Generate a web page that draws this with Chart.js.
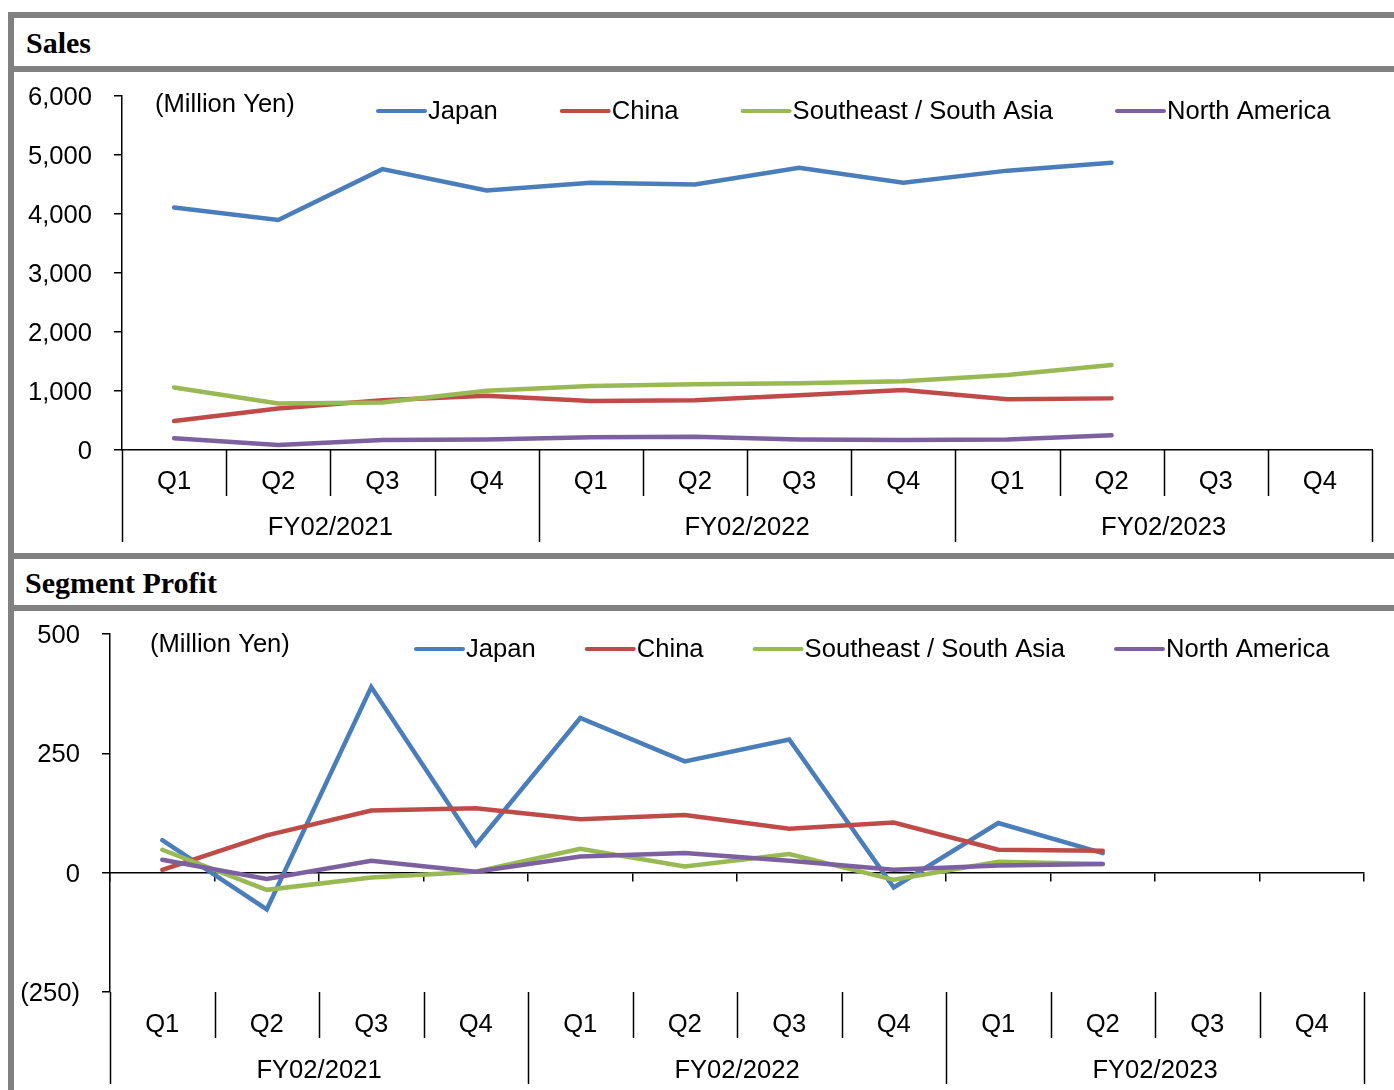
<!DOCTYPE html>
<html>
<head>
<meta charset="utf-8">
<script src="https://cdn.jsdelivr.net/npm/chart.js@4.4.0/dist/chart.umd.min.js"></script>
<style>
  body { margin: 0; background: #fff; width: 1394px; height: 1090px; overflow: hidden; position: relative; }
  .bar { position: absolute; background: #808080; }
  .title { position: absolute; font: bold 30px "Liberation Serif", "Times New Roman", serif; line-height: 30px; color: #000; }
  .box { position: absolute; left: 14px; width: 1380px; }
</style>
</head>
<body>
<div class="bar" style="left:8px;top:12px;width:1386px;height:6px"></div>
<div class="bar" style="left:8px;top:12px;width:6px;height:1078px"></div>
<div class="bar" style="left:8px;top:66px;width:1386px;height:6px"></div>
<div class="bar" style="left:8px;top:553px;width:1386px;height:6px"></div>
<div class="bar" style="left:8px;top:605px;width:1386px;height:6px"></div>
<div class="title" style="left:26px;top:28px">Sales</div>
<div class="title" style="left:25px;top:568px">Segment Profit</div>
<div class="box" style="top:72px;height:481px"><canvas id="sales"></canvas></div>
<div class="box" style="top:611px;height:479px"><canvas id="profit"></canvas></div>

<script>
// categories
const quarters = ["Q1", "Q2", "Q3", "Q4", "Q1", "Q2", "Q3", "Q4", "Q1", "Q2", "Q3", "Q4"];
const fiscalYears = ["FY02/2021", "FY02/2022", "FY02/2023"];
const seriesNames = ["Japan", "China", "Southeast / South Asia", "North America"];
const seriesColors = ["#4a7ebb", "#be4b48", "#98b954", "#7d60a0"];

// Sales (million yen)
const salesJapan = [4110, 3900, 4760, 4400, 4530, 4500, 4785, 4530, 4735, 4870];
const salesChina = [490, 705, 845, 920, 830, 845, 930, 1015, 860, 875];
const salesSEA   = [1060, 790, 805, 1005, 1085, 1115, 1130, 1165, 1270, 1440];
const salesNA    = [200, 85, 170, 180, 215, 225, 180, 170, 180, 250];

// Segment profit (million yen)
const profitJapan = [68, -77, 389, 58, 324, 233, 279, -31, 104, 41];
const profitChina = [6, 78, 130, 135, 112, 121, 92, 105, 48, 46];
const profitSEA   = [48, -36, -10, 2, 50, 13, 39, -15, 23, 18];
const profitNA    = [27, -13, 25, 2, 34, 41, 25, 6, 15, 18];

// tick values
const salesTicks = [0, 1000, 2000, 3000, 4000, 5000, 6000];
const profitTicks = [-250, 0, 250, 500];

const FONT = '"Liberation Sans", Arial, sans-serif';
const FSIZE = 25.6;

// quarter / fiscal year rows under the plot
const periodAxis = {
  id: "periodAxis",
  afterDraw(chart, args, opts) {
    const { ctx, chartArea } = chart;
    const x = chart.scales.x;
    const top = chartArea.bottom;
    const n = quarters.length;
    const half = (x.getPixelForValue(1) - x.getPixelForValue(0)) / 2;
    ctx.save();
    ctx.strokeStyle = "#000";
    ctx.lineWidth = 1.5;
    for (let i = 0; i <= n; i++) {
      const px = Math.round(x.getPixelForValue(i) - half) + 0.5;
      const len = i % 4 === 0 ? opts.longLen : opts.shortLen;
      ctx.beginPath();
      ctx.moveTo(px, top);
      ctx.lineTo(px, top + len);
      ctx.stroke();
    }
    ctx.fillStyle = "#000";
    ctx.font = FSIZE + "px " + FONT;
    ctx.textAlign = "center";
    ctx.textBaseline = "middle";
    quarters.forEach((q, i) => ctx.fillText(q, x.getPixelForValue(i), top + opts.qY));
    fiscalYears.forEach((fy, k) => {
      const mid = (x.getPixelForValue(k * 4) + x.getPixelForValue(k * 4 + 3)) / 2;
      ctx.fillText(fy, mid, top + opts.fyY);
    });
    ctx.restore();
  }
};

// unit note + line legend drawn inside the plot
const lineLegend = {
  id: "lineLegend",
  afterDraw(chart, args, opts) {
    const { ctx } = chart;
    ctx.save();
    ctx.fillStyle = "#000";
    ctx.font = FSIZE + "px " + FONT;
    ctx.textAlign = "left";
    ctx.textBaseline = "middle";
    ctx.fillText("(Million Yen)", opts.unitX, opts.unitY);
    let x = opts.x;
    chart.data.datasets.forEach(ds => {
      ctx.strokeStyle = ds.borderColor;
      ctx.lineWidth = 4;
      ctx.lineCap = "round";
      ctx.beginPath();
      ctx.moveTo(x, opts.y);
      ctx.lineTo(x + 47, opts.y);
      ctx.stroke();
      x += 50;
      ctx.fillText(ds.label, x, opts.y + 1);
      x += ctx.measureText(ds.label).width + opts.gap;
    });
    ctx.restore();
  }
};

function makeDatasets(arrays) {
  return arrays.map((data, i) => ({
    label: seriesNames[i],
    data: data,
    borderColor: seriesColors[i],
    backgroundColor: seriesColors[i],
    borderWidth: 4.5,
    pointRadius: 0,
    tension: 0,
    borderCapStyle: "round",
    borderJoinStyle: "miter",
    order: arrays.length - i
  }));
}

function yAxis(min, max, ticks, width, fmt) {
  return {
    min: min, max: max,
    afterBuildTicks: s => { s.ticks = ticks.map(v => ({ value: v })); },
    ticks: { color: "#000", font: { family: FONT, size: FSIZE }, padding: 22, labelOffset: 2, callback: fmt },
    grid: { drawOnChartArea: false, tickLength: 8, color: "#000", lineWidth: 1.5 },
    border: { color: "#000", width: 1.5 },
    afterFit: s => { s.width = width; s.paddingTop = 0; s.paddingBottom = 0; }
  };
}

new Chart(document.getElementById("sales"), {
  type: "line",
  data: { labels: quarters, datasets: makeDatasets([salesJapan, salesChina, salesSEA, salesNA]) },
  options: {
    responsive: true,
    maintainAspectRatio: false,
    animation: false,
    layout: { padding: { top: 24, right: 22, bottom: 103, left: 0 } },
    plugins: {
      legend: { display: false },
      tooltip: { enabled: false },
      periodAxis: { shortLen: 46, longLen: 92, qY: 32, fyY: 78 },
      lineLegend: { unitX: 141, unitY: 33, x: 364, y: 39, gap: 64 }
    },
    scales: {
      x: {
        offset: true,
        grid: { display: false, drawTicks: false },
        ticks: { display: false },
        border: { color: "#000", width: 1.5 },
        afterFit: s => { s.height = 0; }
      },
      y: yAxis(0, 6000, salesTicks, 108, v => v.toLocaleString("en-US"))
    }
  },
  plugins: [periodAxis, lineLegend]
});

new Chart(document.getElementById("profit"), {
  type: "line",
  data: { labels: quarters, datasets: makeDatasets([profitJapan, profitChina, profitSEA, profitNA]) },
  options: {
    responsive: true,
    maintainAspectRatio: false,
    animation: false,
    layout: { padding: { top: 23, right: 30, bottom: 98, left: 0 } },
    plugins: {
      legend: { display: false },
      tooltip: { enabled: false },
      periodAxis: { shortLen: 46, longLen: 92, qY: 33, fyY: 79 },
      lineLegend: { unitX: 136, unitY: 34, x: 402, y: 38, gap: 51 }
    },
    scales: {
      x: {
        position: { y: 0 },
        offset: true,
        grid: { display: true, drawOnChartArea: false, offset: true, tickLength: 8, color: "#000", lineWidth: 1.5 },
        ticks: { display: false },
        border: { color: "#000", width: 1.5 }
      },
      y: yAxis(-250, 500, profitTicks, 96, v => v < 0 ? "(" + (-v) + ")" : String(v))
    }
  },
  plugins: [periodAxis, lineLegend]
});
</script>
</body>
</html>
